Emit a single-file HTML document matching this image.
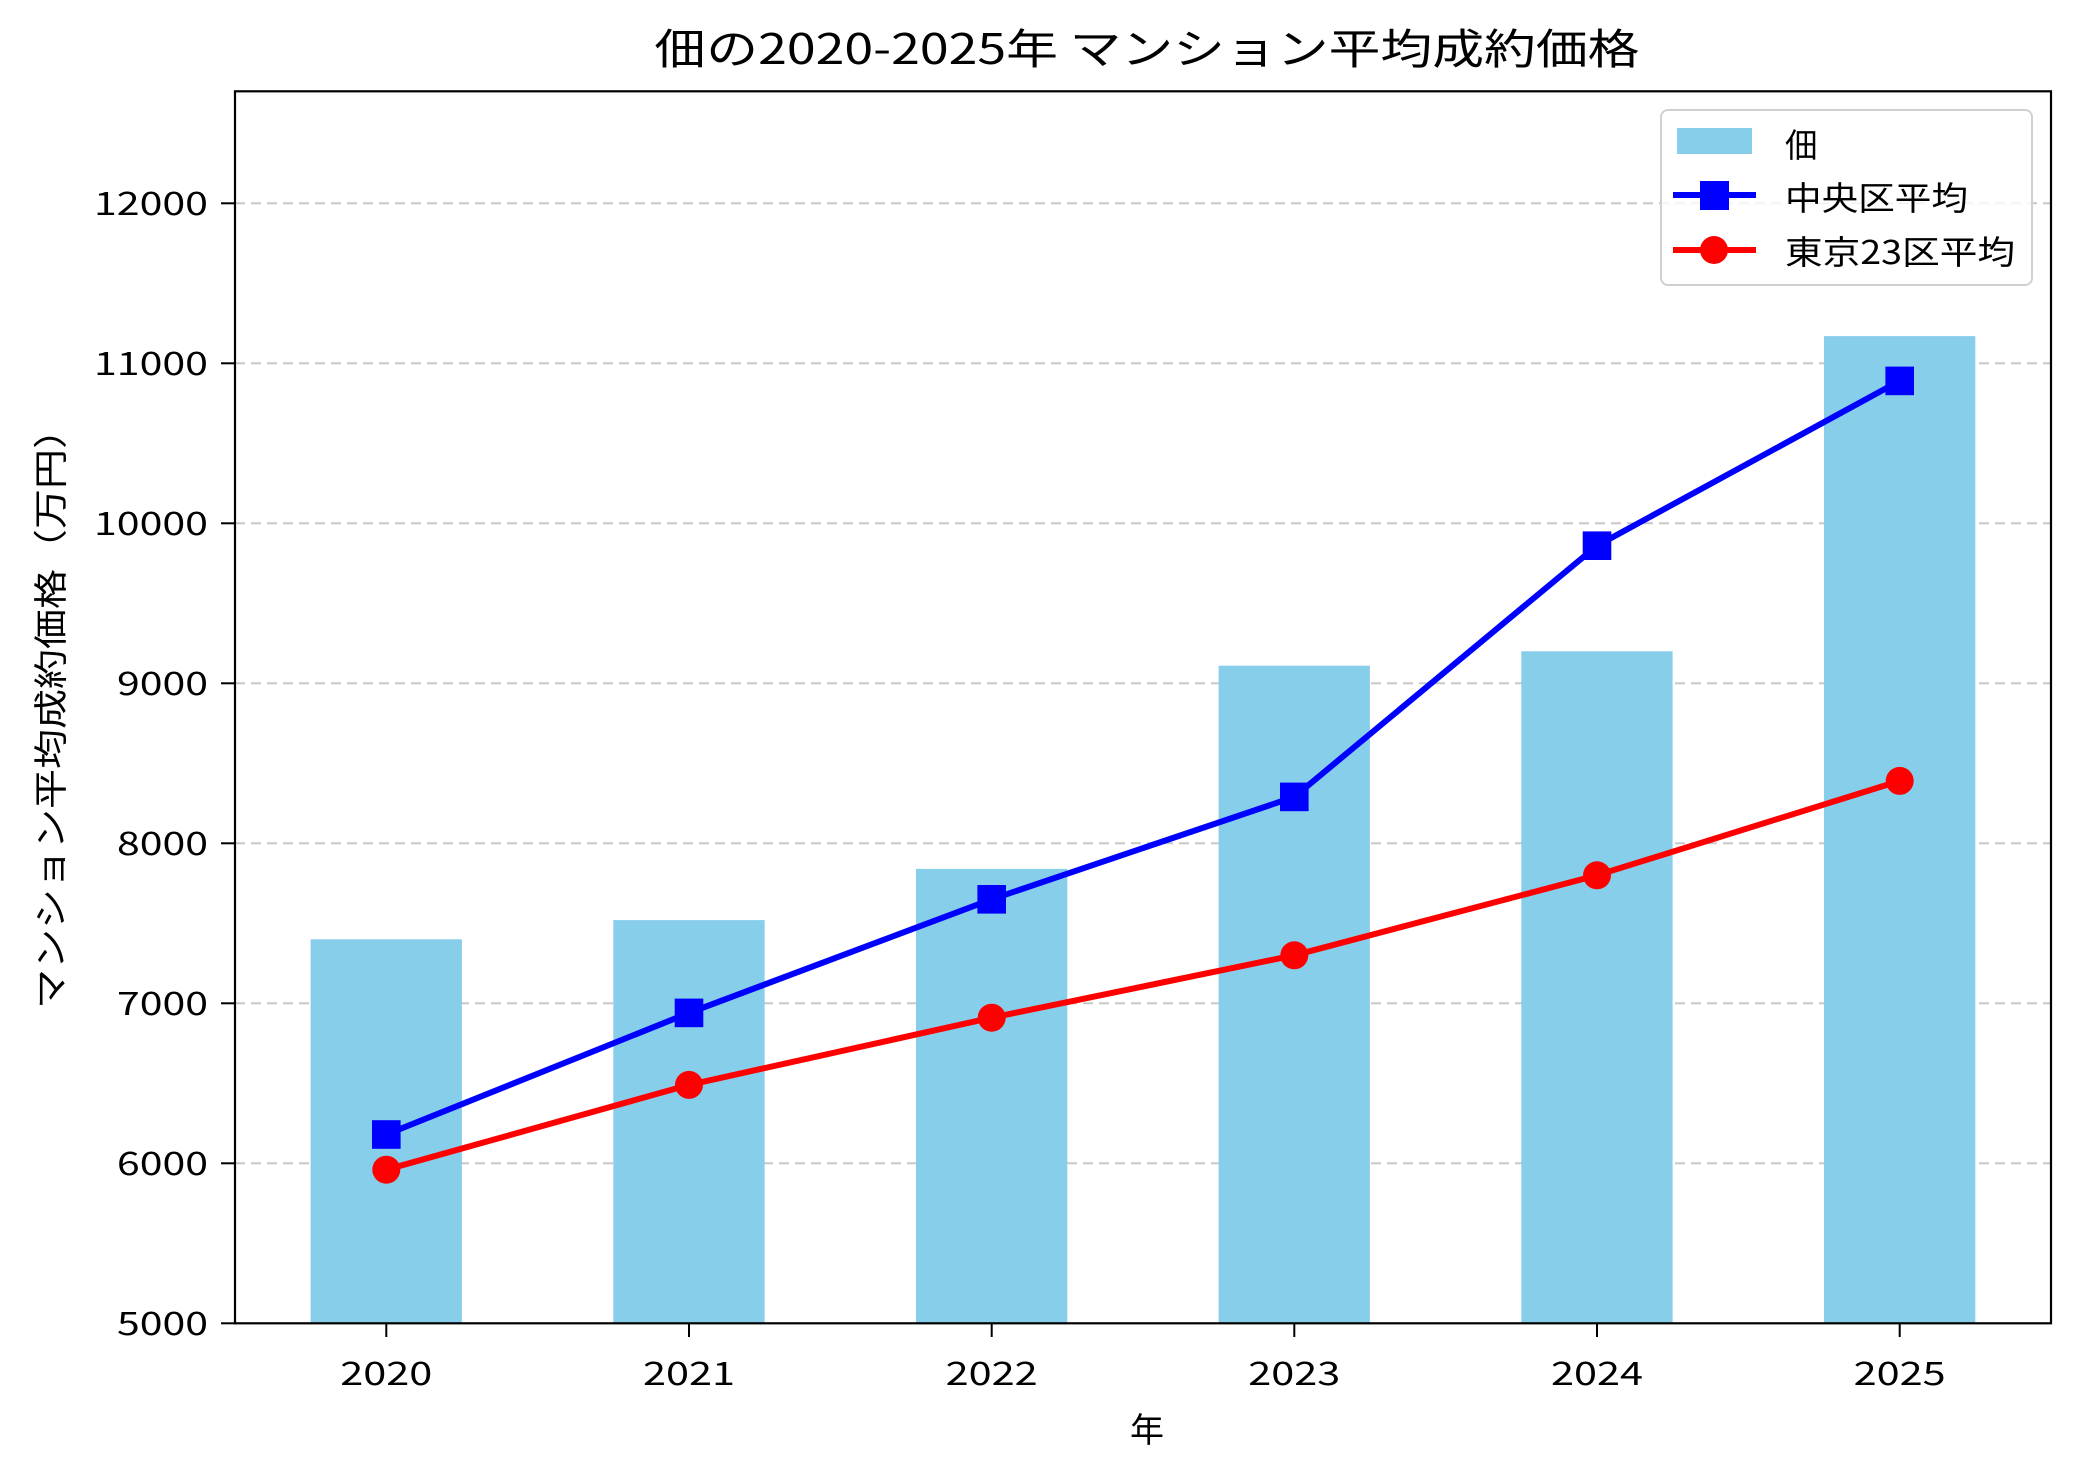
<!DOCTYPE html>
<html><head><meta charset="utf-8"><style>
html,body{margin:0;padding:0;background:#fff;}
svg{display:block;}
text{font-family:"Noto Sans CJK JP","Liberation Sans",sans-serif;fill:#000;}
</style></head><body>
<svg width="2080" height="1474" viewBox="0 0 2080 1474" xmlns="http://www.w3.org/2000/svg">
<rect width="2080" height="1474" fill="#fff"/>
<g stroke="#c8c8c8" stroke-width="2" stroke-dasharray="10,6">
<line x1="235" x2="2051" y1="1163.3" y2="1163.3"/>
<line x1="235" x2="2051" y1="1003.3" y2="1003.3"/>
<line x1="235" x2="2051" y1="843.3" y2="843.3"/>
<line x1="235" x2="2051" y1="683.3" y2="683.3"/>
<line x1="235" x2="2051" y1="523.3" y2="523.3"/>
<line x1="235" x2="2051" y1="363.3" y2="363.3"/>
<line x1="235" x2="2051" y1="203.3" y2="203.3"/>
</g>
<g fill="#87ceeb">
<rect x="310.6" y="939.3" width="151.3" height="384"/>
<rect x="613.3" y="920.1" width="151.3" height="403.2"/>
<rect x="916" y="868.9" width="151.3" height="454.4"/>
<rect x="1218.6" y="665.7" width="151.3" height="657.6"/>
<rect x="1521.3" y="651.3" width="151.3" height="672"/>
<rect x="1824" y="336.1" width="151.3" height="987.2"/>
</g>
<polyline fill="none" stroke="#0000ff" stroke-width="6" points="386.3,1134.5 689,1012.9 991.7,899.3 1294.3,796.9 1597,545.7 1899.7,380.9"/>
<g fill="#0000ff">
<rect x="372" y="1120.2" width="28.6" height="28.6"/>
<rect x="674.7" y="998.6" width="28.6" height="28.6"/>
<rect x="977.4" y="885" width="28.6" height="28.6"/>
<rect x="1280" y="782.6" width="28.6" height="28.6"/>
<rect x="1582.7" y="531.4" width="28.6" height="28.6"/>
<rect x="1885.4" y="366.6" width="28.6" height="28.6"/>
</g>
<polyline fill="none" stroke="#ff0000" stroke-width="6" points="386.3,1169.7 689,1084.9 991.7,1017.7 1294.3,955.3 1597,875.3 1899.7,780.9"/>
<g fill="#ff0000">
<circle cx="386.3" cy="1169.7" r="14"/>
<circle cx="689" cy="1084.9" r="14"/>
<circle cx="991.7" cy="1017.7" r="14"/>
<circle cx="1294.3" cy="955.3" r="14"/>
<circle cx="1597" cy="875.3" r="14"/>
<circle cx="1899.7" cy="780.9" r="14"/>
</g>
<rect x="235" y="91.3" width="1816" height="1232" fill="none" stroke="#000" stroke-width="2.2"/>
<g stroke="#000" stroke-width="2">
<line x1="221" x2="235" y1="1323.3" y2="1323.3"/>
<line x1="221" x2="235" y1="1163.3" y2="1163.3"/>
<line x1="221" x2="235" y1="1003.3" y2="1003.3"/>
<line x1="221" x2="235" y1="843.3" y2="843.3"/>
<line x1="221" x2="235" y1="683.3" y2="683.3"/>
<line x1="221" x2="235" y1="523.3" y2="523.3"/>
<line x1="221" x2="235" y1="363.3" y2="363.3"/>
<line x1="221" x2="235" y1="203.3" y2="203.3"/>
<line x1="386.3" x2="386.3" y1="1323.3" y2="1337"/>
<line x1="689" x2="689" y1="1323.3" y2="1337"/>
<line x1="991.7" x2="991.7" y1="1323.3" y2="1337"/>
<line x1="1294.3" x2="1294.3" y1="1323.3" y2="1337"/>
<line x1="1597" x2="1597" y1="1323.3" y2="1337"/>
<line x1="1899.7" x2="1899.7" y1="1323.3" y2="1337"/>
</g>
<g font-size="32" text-anchor="end">
<text x="208" y="1335" textLength="91" lengthAdjust="spacingAndGlyphs">5000</text>
<text x="208" y="1175" textLength="91" lengthAdjust="spacingAndGlyphs">6000</text>
<text x="208" y="1015" textLength="91" lengthAdjust="spacingAndGlyphs">7000</text>
<text x="208" y="855" textLength="91" lengthAdjust="spacingAndGlyphs">8000</text>
<text x="208" y="695" textLength="91" lengthAdjust="spacingAndGlyphs">9000</text>
<text x="208" y="535" textLength="114" lengthAdjust="spacingAndGlyphs">10000</text>
<text x="208" y="375" textLength="114" lengthAdjust="spacingAndGlyphs">11000</text>
<text x="208" y="215" textLength="114" lengthAdjust="spacingAndGlyphs">12000</text>
</g>
<g font-size="32" text-anchor="middle">
<text x="386.3" y="1385" textLength="92" lengthAdjust="spacingAndGlyphs">2020</text>
<text x="689" y="1385" textLength="92" lengthAdjust="spacingAndGlyphs">2021</text>
<text x="991.7" y="1385" textLength="92" lengthAdjust="spacingAndGlyphs">2022</text>
<text x="1294.3" y="1385" textLength="92" lengthAdjust="spacingAndGlyphs">2023</text>
<text x="1597" y="1385" textLength="92" lengthAdjust="spacingAndGlyphs">2024</text>
<text x="1899.7" y="1385" textLength="92" lengthAdjust="spacingAndGlyphs">2025</text>
<text x="1147" y="1442" font-size="34">年</text>
<text x="1147" y="64" font-size="42" textLength="985" lengthAdjust="spacingAndGlyphs">佃の2020-2025年 マンション平均成約価格</text>
</g>
<text transform="translate(63,709) rotate(-90)" font-size="34" text-anchor="middle" textLength="600" lengthAdjust="spacingAndGlyphs">マンション平均成約価格（万円）</text>
<rect x="1661" y="110" width="371" height="175" rx="7" fill="#fff" fill-opacity="0.8" stroke="#d0d0d0" stroke-width="2"/>
<rect x="1677" y="128" width="75" height="26" fill="#87ceeb"/>
<line x1="1673" x2="1756" y1="195" y2="195" stroke="#0000ff" stroke-width="6"/>
<rect x="1700" y="181" width="29" height="29" fill="#0000ff"/>
<line x1="1673" x2="1756" y1="250" y2="250" stroke="#ff0000" stroke-width="6"/>
<circle cx="1714" cy="250" r="14" fill="#ff0000"/>
<g font-size="33">
<text x="1785" y="157">佃</text>
<text x="1785" y="210" textLength="183" lengthAdjust="spacingAndGlyphs">中央区平均</text>
<text x="1785" y="264" textLength="230" lengthAdjust="spacingAndGlyphs">東京23区平均</text>
</g>
</svg>
</body></html>
